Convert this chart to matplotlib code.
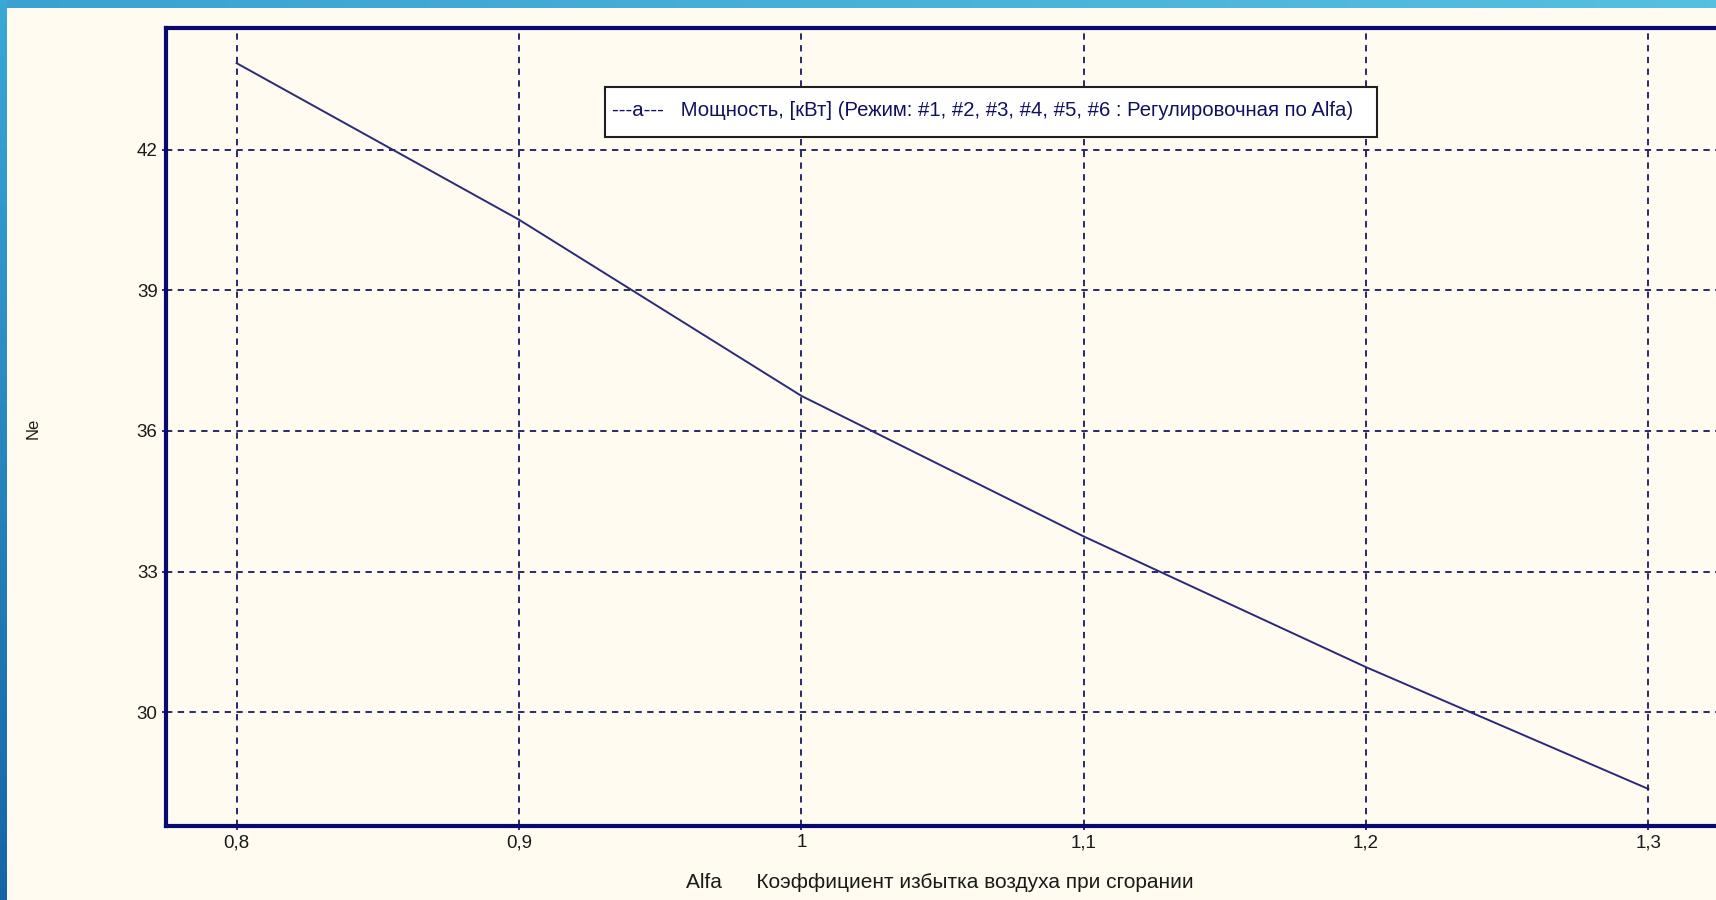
import numpy as np
import matplotlib
matplotlib.use('Agg')
import matplotlib.pyplot as plt
from matplotlib.colors import LinearSegmentedColormap
from matplotlib.patches import Rectangle

# Data
alfa = [0.8, 0.9, 1.0, 1.1, 1.2, 1.3]
ne = [43.85, 40.51, 36.75, 33.75, 30.96, 28.36]

x_ticks = [0.8, 0.9, 1.0, 1.1, 1.2, 1.3]
x_labels = ['0,8', '0,9', '1', '1,1', '1,2', '1,3']
y_ticks = [30, 33, 36, 39, 42]
y_labels = ['30', '33', '36', '39', '42']

legend_text = ('---a---   Мощность, [кВт] (Режим: #1, #2, #3, #4, #5, #6 : '
               'Регулировочная по Alfa)')
xlabel_text = 'Alfa      Коэффициент избытка воздуха при сгорании'

navy = '#0a0a6e'
ink = '#1a1a1a'
bg = '#fffbf1'

plt.rcParams['font.family'] = ['Liberation Sans', 'DejaVu Sans']

fig = plt.figure(figsize=(17.16, 9.0), dpi=100, facecolor=bg)

# blue frame strips (top and left)
top = fig.add_axes([0, 1 - 8 / 900, 1, 8 / 900])
top.imshow(np.linspace(0, 1, 256).reshape(1, -1), aspect='auto',
           cmap=LinearSegmentedColormap.from_list('t', ['#3aa2d0', '#56c0e0']))
top.axis('off')
left = fig.add_axes([0, 0, 7 / 1716, 1])
left.imshow(np.linspace(0, 1, 256).reshape(-1, 1), aspect='auto',
            cmap=LinearSegmentedColormap.from_list('l', ['#3aa8d6', '#1565a5']))
left.axis('off')

ax = fig.add_axes([166 / 1716, 1 - 826 / 900, 1553 / 1716, 798 / 900])
ax.set_facecolor(bg)

ax.plot(alfa, ne, color='#2a2a78', linewidth=1.4)

ax.set_xlim(0.775, 1.325)
ax.set_ylim(27.57, 44.6)
ax.set_xticks(x_ticks)
ax.set_xticklabels(x_labels)
ax.set_yticks(y_ticks)
ax.set_yticklabels(y_labels)
ax.tick_params(axis='both', labelsize=13.5, colors=navy, labelcolor=ink,
               length=3, width=1.2, pad=3)

ax.grid(True, color='#1a1a60', linestyle=(0, (3.5, 3)), linewidth=1.3)

for s in ax.spines.values():
    s.set_color(navy)
    s.set_linewidth(3)

# legend box drawn as a rectangle with text inside
box = Rectangle((605 / 1716, 1 - 137 / 900), 772 / 1716, 50 / 900,
                transform=fig.transFigure, facecolor='white',
                edgecolor='#202020', linewidth=1.5, zorder=5)
fig.patches.append(box)
fig.text(612 / 1716, 1 - 111 / 900, legend_text, fontsize=14.6, color='#101060',
         ha='left', va='center', zorder=6)

fig.text(33 / 1716, 1 - 428 / 900, 'Ne', rotation=90, fontsize=12, color=ink,
         ha='center', va='center')
fig.text(686 / 1716, 1 - 882 / 900, xlabel_text, fontsize=15, color=ink,
         ha='left', va='center')

fig.savefig('out.png', dpi=100, facecolor=bg)
